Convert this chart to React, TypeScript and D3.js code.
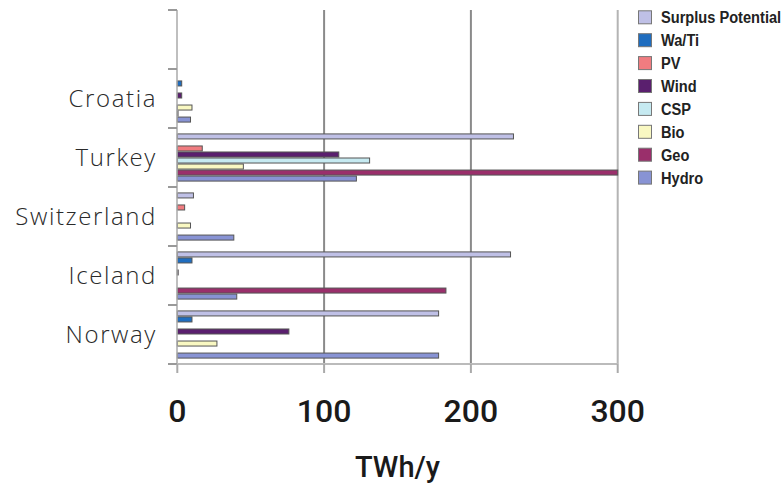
import React from "react";
import * as d3 from "d3";

const categories = ["", "Croatia", "Turkey", "Switzerland", "Iceland", "Norway"];
const seriesNames = ["Surplus Potential", "Wa/Ti", "PV", "Wind", "CSP", "Bio", "Geo", "Hydro"];
const surplus = [0, 0, 229, 11, 227, 178];
const waTi = [0, 3, 0, 0, 10, 10];
const pv = [0, 0, 17, 5, 0, 0];
const wind = [0, 3, 110, 0, 0.6, 76];
const csp = [0, 0, 131, 0, 0, 0];
const bio = [0, 10, 45, 9, 0, 27];
const geo = [0, 0.5, 300, 0, 183, 0];
const hydro = [0, 9, 122, 38.5, 40.5, 178];
const xTicks = [0, 100, 200, 300];
const colors = ["#bfc0e6", "#1f6dbf", "#f07c80", "#5a1f6e", "#c6eaf1", "#f9f8c2", "#9a2f6b", "#8893d4"];

const seriesValues = [surplus, waTi, pv, wind, csp, bio, geo, hydro];

export default function App() {
  const W = 783, H = 483;
  const x = d3.scaleLinear().domain([0, 300]).range([177.3, 617.7]);
  const y = d3.scaleBand().domain(categories).range([10, 364]).padding(0);
  const yi = d3.scaleBand().domain(seriesNames).range([0, y.bandwidth()]).paddingInner(0).paddingOuter(0.9);
  const boundaries = categories.map((c) => y(c)!).concat([364]);

  return (
    <svg width={W} height={H} style={{ position: "absolute", left: 0, top: 0, background: "#fff" }}>
      {/* gridlines */}
      {xTicks.slice(1).map((t) => (
        <line key={"g" + t} x1={x(t)} x2={x(t)} y1={10} y2={364} stroke={t === 300 ? "#b4b4b4" : "#8a8a8a"} strokeWidth={2} />
      ))}
      {/* bars */}
      {categories.map((c, ci) => (
        <g key={"c" + ci} transform={`translate(0,${y(c)})`}>
          {seriesNames.map((s, si) => {
            const v = seriesValues[si][ci];
            if (!v) return null;
            return (
              <rect key={s} x={x(0)} y={yi(s)! + 0.5} width={x(v) - x(0)} height={yi.bandwidth() - 1}
                fill={colors[si]} stroke="#555" strokeWidth={1} />
            );
          })}
        </g>
      ))}
      {/* y axis */}
      <line x1={177} x2={177} y1={10} y2={364} stroke="#aaa" strokeWidth={1.5} />
      {boundaries.map((b, i) => (
        <line key={"yt" + i} x1={168} x2={177} y1={b} y2={b} stroke="#999" strokeWidth={2} />
      ))}
      {/* x axis */}
      <line x1={177} x2={618} y1={364} y2={364} stroke="#bbb" strokeWidth={2} />
      {xTicks.map((t) => (
        <line key={"xt" + t} x1={x(t)} x2={x(t)} y1={364} y2={373} stroke="#aaa" strokeWidth={2} />
      ))}
      {xTicks.map((t) => (
        <text key={"xl" + t} x={x(t)} y={421.5} textAnchor="middle" fontFamily="Roboto, 'Liberation Sans', sans-serif"
          fontWeight={500} fontSize={32} fill="#1a1a1a">{t}</text>
      ))}
      <text x={397.5} y={476.5} textAnchor="middle" fontFamily="Roboto, 'Liberation Sans', sans-serif"
        fontWeight={500} fontSize={29} fill="#1a1a1a">TWh/y</text>
      {/* category labels */}
      {categories.map((c, ci) => c ? (
        <text key={"cl" + ci} x={157} y={y(c)! + y.bandwidth() / 2} dy="0.36em" textAnchor="end"
          fontFamily="'Open Sans', sans-serif" fontWeight={300} fontSize={24} letterSpacing={1.6} fill="#2a2a2a">{c}</text>
      ) : null)}
      {/* legend */}
      {seriesNames.map((s, si) => (
        <g key={"lg" + s} transform={`translate(638,${17.3 + si * 22.9})`}>
          <rect x={0.5} y={-6.5} width={13} height={13} fill={colors[si]} stroke="#777" strokeWidth={1} />
          <text x={0} y={0} dy="0.36em" transform="translate(23,0) scale(0.86,1)" fontFamily="'Liberation Sans', Arial, sans-serif"
            fontWeight={700} fontSize={17} fill="#222">{s}</text>
        </g>
      ))}
    </svg>
  );
}
